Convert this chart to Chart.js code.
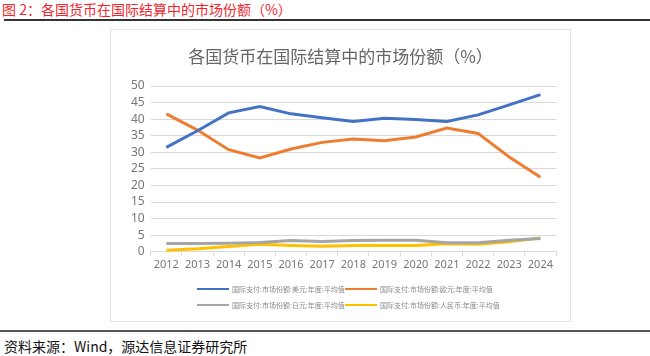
<!DOCTYPE html>
<html><head><meta charset="utf-8">
<script src="https://cdn.jsdelivr.net/npm/chart.js@4/dist/chart.umd.min.js"></script>
<style>
html,body{margin:0;padding:0;background:#fff;width:650px;height:356px;overflow:hidden;font-family:"Noto Sans CJK SC","Noto Sans",sans-serif;}
#t{position:absolute;left:2px;top:-1px;font-size:14px;color:#f0262f;white-space:nowrap;}
#l1{position:absolute;left:4px;top:19px;width:646px;height:2px;background:#333;}
#l2{position:absolute;left:0px;top:330px;width:650px;height:2px;background:#555;}
#src{position:absolute;left:4px;top:336px;font-size:14px;color:#111;white-space:nowrap;}
#box{position:absolute;left:110px;top:29px;width:459px;height:291px;border:1px solid #e3e3e3;}
#wrap{position:absolute;left:0;top:0;width:459px;height:291px;}
.lg{position:absolute;height:10px;font-size:7px;line-height:10px;color:#8a8a8a;white-space:nowrap;}
.lg i{display:inline-block;width:32px;height:2px;vertical-align:middle;margin-right:3px;position:relative;top:-1px;}
</style></head><body>
<div id="t">图 2：各国货币在国际结算中的市场份额（%）</div>
<div id="l1"></div>
<div id="box"><div id="wrap"><canvas id="c"></canvas></div></div>
<div id="legend"></div>
<div id="l2"></div>
<div id="src">资料来源：Wind，源达信息证券研究所</div>
<script>
const years = ['2012','2013','2014','2015','2016','2017','2018','2019','2020','2021','2022','2023','2024'];
const usd = [31.5,36.5,41.9,43.8,41.6,40.4,39.3,40.3,39.9,39.3,41.3,44.3,47.4];
const eur = [41.6,36.7,30.8,28.3,31.0,33.0,34.0,33.5,34.6,37.3,35.7,28.6,22.5];
const jpy = [2.5,2.5,2.6,2.8,3.4,3.1,3.4,3.5,3.5,2.7,2.7,3.5,4.0];
const cny = [0.5,0.9,1.6,2.3,1.9,1.7,1.9,1.9,1.9,2.4,2.3,3.0,4.2];
const names = ['国际支付:市场份额:美元:年度:平均值','国际支付:市场份额:欧元:年度:平均值','国际支付:市场份额:日元:年度:平均值','国际支付:市场份额:人民币:年度:平均值'];
const colors = ['#4472C4','#ED7D31','#A5A5A5','#FFC000'];
const series = [usd,eur,jpy,cny];
const legendPos = [[197,284],[345,284],[197,300],[345,300]];
const lgEl = document.getElementById('legend');
names.forEach((n,i)=>{
  const d=document.createElement('div'); d.className='lg';
  d.style.left=legendPos[i][0]+'px'; d.style.top=legendPos[i][1]+'px';
  d.innerHTML='<i style="background:'+colors[i]+'"></i>'+n;
  lgEl.appendChild(d);
});
new Chart(document.getElementById('c'), {
  type:'line',
  data:{labels:years, datasets: series.map((d,i)=>({label:names[i],data:d,borderColor:colors[i],backgroundColor:colors[i],borderWidth:3,pointRadius:0,tension:0,fill:false}))},
  options:{
    responsive:true, maintainAspectRatio:false, animation:false,
    layout:{padding:{left:14,right:14,top:4,bottom:48}},
    plugins:{
      title:{display:true,text:'各国货币在国际结算中的市场份额（%）',color:'#666666',font:{size:17,family:'"Noto Sans CJK SC"',weight:'normal'},padding:{top:12,bottom:19.6}},
      legend:{display:false},
      tooltip:{enabled:false}
    },
    scales:{
      x:{offset:true,grid:{display:true,drawOnChartArea:false,drawTicks:true,tickLength:4,color:'#d9d9d9',offset:true},border:{color:'#d9d9d9'},ticks:{color:'#777777',font:{size:11,family:'"Noto Sans"'},maxRotation:0,padding:2}},
      y:{min:0,max:50,grid:{color:'#d9d9d9',drawTicks:false},border:{display:false},ticks:{stepSize:5,autoSkip:false,color:'#777777',font:{size:12,family:'"Noto Sans"'},padding:6}}
    }
  }
});
</script>
</body></html>
